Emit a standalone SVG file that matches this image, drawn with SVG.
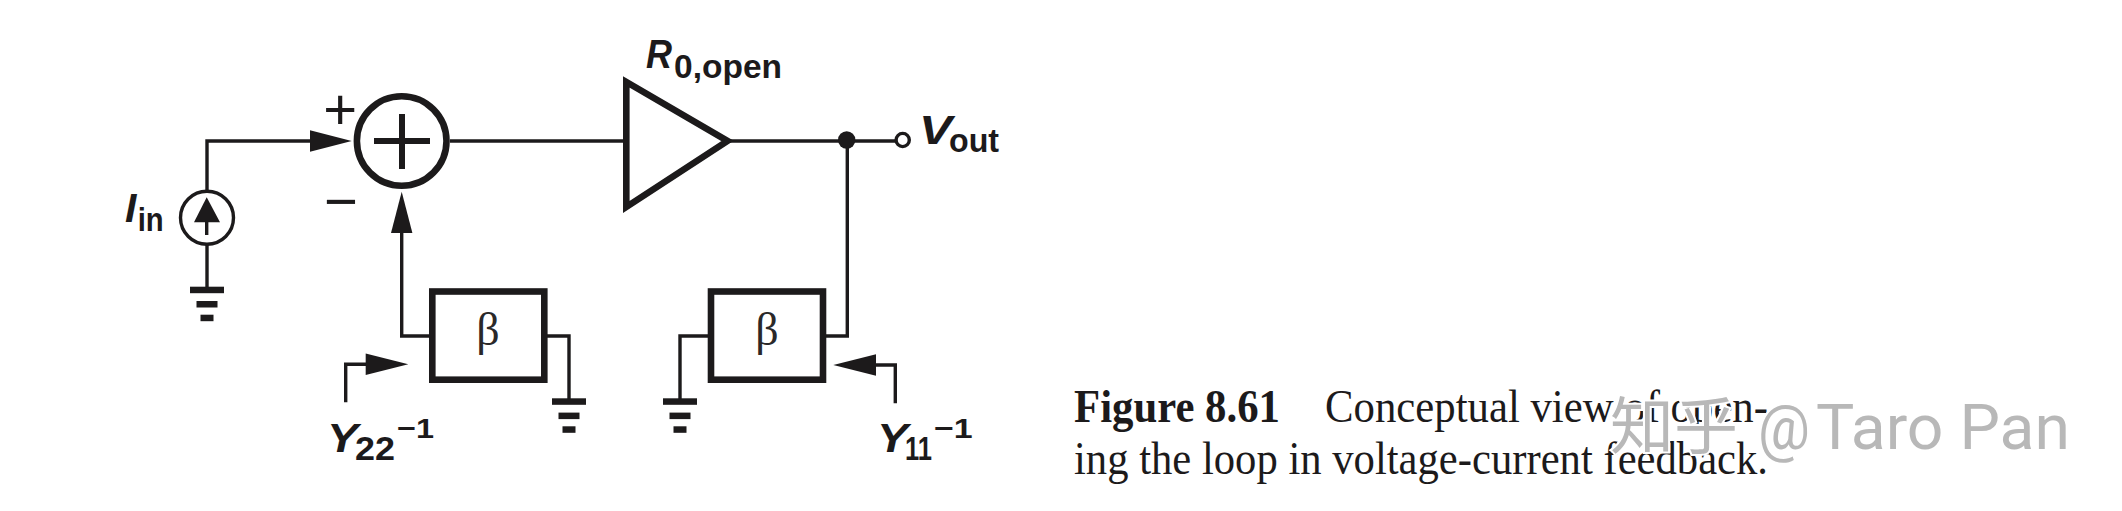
<svg xmlns="http://www.w3.org/2000/svg" width="2122" height="511" viewBox="0 0 2122 511">
<style>
.w{fill:none;stroke:#1c1a1b;stroke-width:3.4}
.t{fill:none;stroke:#1c1a1b;stroke-width:6.6}
.f{fill:#1c1a1b}
.l{font-family:"Liberation Sans",Arial,sans-serif;font-weight:700;fill:#1c1a1b}
.i{font-style:italic;font-size:41px}
.s{font-size:34px}
.b{font-family:"Liberation Serif",serif;font-size:46px;fill:#2a2829;text-anchor:middle}
.c{font-family:"Liberation Serif",serif;font-size:46px;fill:#1c1a1b}
.m{font-family:"Liberation Sans",sans-serif;font-size:58px;fill:#1c1a1b;text-anchor:middle}
.wm{font-family:"Roboto","Noto Sans CJK SC",sans-serif;font-weight:400;font-size:63px}
</style>
<defs>
<g id="gnd" class="f"><rect x="-17" y="0" width="34" height="6.5"/><rect x="-10.5" y="14.3" width="21" height="6.5"/><rect x="-6.5" y="28" width="13" height="6.5"/></g>
<g id="wmt"><text x="1610" y="449" font-size="62" textLength="128" lengthAdjust="spacingAndGlyphs">知乎</text><text x="1758" y="449" textLength="52" lengthAdjust="spacingAndGlyphs">@</text><text x="1816" y="449" textLength="254" lengthAdjust="spacingAndGlyphs">Taro Pan</text></g>
</defs>
<rect width="2122" height="511" fill="#fff"/>
<g id="connectors">
<path class="w" d="M207 190V141H312"/>
<path class="w" d="M450 141H626"/>
<path class="w" d="M730 141H897"/>
<path class="w" d="M847.3 140V336H825"/>
<path class="w" d="M430 336H401.7V232"/>
<path class="w" d="M547 336H569V399"/>
<path class="w" d="M708 336H680V399"/>
<path class="w" d="M207 244V287"/>
<path class="w" d="M345.7 402.3V364.3H367"/>
<path class="w" d="M895.3 403.3V365H875"/>
<polygon class="f" points="310,130.3 351.7,141 310,151.7"/>
<polygon class="f" points="391,233 401.7,191.7 412.4,233"/>
<polygon class="f" points="365.7,353.6 408.3,364.3 365.7,375"/>
<polygon class="f" points="876,354.3 833.3,365 876,375.7"/>
</g>
<g id="source"><circle class="w" cx="207" cy="217.7" r="26.5"/><polygon class="f" points="206.7,197.3 220,222.3 194,222.3"/><path class="w" d="M206.7 220V235"/></g>
<g id="ground1"><use href="#gnd" x="207" y="286.7"/></g>
<g id="ground2"><use href="#gnd" x="569" y="398.3"/></g>
<g id="ground3"><use href="#gnd" x="680" y="398.3"/></g>
<g id="sum"><circle class="t" cx="401.7" cy="141" r="44.8"/><rect class="f" x="374" y="138" width="56" height="6"/><rect class="f" x="399" y="114" width="6" height="55"/></g>
<g id="signs"><text class="m" x="340.3" y="129" style="font-weight:400">+</text><text class="m" x="341" y="221">−</text></g>
<g id="amp"><polygon class="t" points="626.3,82 626.3,207 727.5,141"/></g>
<g id="out-dot"><circle class="f" cx="846.7" cy="140" r="8.7"/></g>
<g id="out-port"><circle cx="902.7" cy="140" r="6.6" fill="#fff" stroke="#1c1a1b" stroke-width="3.4"/></g>
<g id="beta1"><rect class="t" x="432.3" y="291.5" width="112" height="88.2"/><text class="b" x="488" y="345">β</text></g>
<g id="beta2"><rect class="t" x="711" y="291.5" width="112" height="88.2"/><text class="b" x="767" y="345">β</text></g>
<g id="labels">
<text class="l i" x="125" y="221.7">I</text><text class="l s" x="137.7" y="231" textLength="26" lengthAdjust="spacingAndGlyphs">in</text>
<text class="l i" x="646" y="68.3" textLength="26" lengthAdjust="spacingAndGlyphs">R</text><text class="l s" x="674" y="78.3" textLength="108" lengthAdjust="spacingAndGlyphs">0,open</text>
<text class="l i" x="919" y="144" textLength="33" lengthAdjust="spacingAndGlyphs">V</text><text class="l s" x="949" y="152.3" textLength="50" lengthAdjust="spacingAndGlyphs">out</text>
<text class="l i" x="327" y="451.7" textLength="31" lengthAdjust="spacingAndGlyphs">Y</text><text class="l s" x="355" y="460" textLength="40" lengthAdjust="spacingAndGlyphs">22</text><text class="l" font-size="28" x="397" y="438.3" textLength="37" lengthAdjust="spacingAndGlyphs">−1</text>
<text class="l i" x="877" y="451.7" textLength="31" lengthAdjust="spacingAndGlyphs">Y</text><text class="l s" x="905" y="460" textLength="27" lengthAdjust="spacingAndGlyphs">11</text><text class="l" font-size="28" x="934" y="438.3" textLength="38.7" lengthAdjust="spacingAndGlyphs">−1</text>
</g>
<g id="caption">
<text class="c" font-weight="700" x="1074" y="421.7" textLength="206" lengthAdjust="spacingAndGlyphs">Figure 8.61</text>
<text class="c" x="1325" y="421.7" textLength="443" lengthAdjust="spacingAndGlyphs">Conceptual view of open-</text>
<text class="c" x="1074" y="474" textLength="694" lengthAdjust="spacingAndGlyphs">ing the loop in voltage-current feedback.</text>
</g>
<g id="watermark" class="wm">
<use href="#wmt" fill="#fff" stroke="#fff" stroke-width="4"/>
<use href="#wmt" fill="#b8b8b8"/>
</g>
</svg>
